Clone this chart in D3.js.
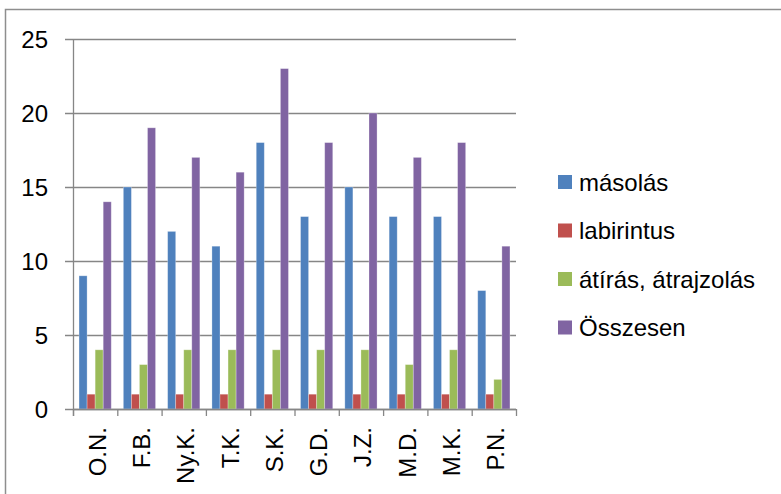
<!DOCTYPE html>
<html>
<head>
<meta charset="utf-8">
<script src="https://cdn.jsdelivr.net/npm/d3@7"></script>
<style>
  html, body { margin: 0; padding: 0; background: #fff; }
  svg { display: block; font-family: "Liberation Sans", Arial, sans-serif; }
</style>
</head>
<body>
<svg id="chart" width="781" height="494"></svg>
<script>
const categories = ["O.N.", "F.B.", "Ny.K.", "T.K.", "S.K.", "G.D.", "J.Z.", "M.D.", "M.K.", "P.N."];
const seriesNames = ["másolás", "labirintus", "átírás, átrajzolás", "Összesen"];
const masolas    = [9, 15, 12, 11, 18, 13, 15, 13, 13, 8];
const labirintus = [1, 1, 1, 1, 1, 1, 1, 1, 1, 1];
const atiras     = [4, 3, 4, 4, 4, 4, 4, 3, 4, 2];
const osszesen   = [14, 19, 17, 16, 23, 18, 20, 17, 18, 11];
const yTicks = [0, 5, 10, 15, 20, 25];
const colors = ["#4F81BD", "#C0504D", "#9BBB59", "#8064A2"];

const seriesValues = [masolas, labirintus, atiras, osszesen];

const svg = d3.select("#chart");
const plotLeft = 73, plotRight = 516, plotTop = 39, plotBottom = 409;
const fontSize = 24;

// outer frame (right/bottom edges fall outside the picture)
svg.append("rect")
  .attr("x", 5.5).attr("y", 9.5).attr("width", 800).attr("height", 520)
  .attr("fill", "none").attr("stroke", "#8e8e8e").attr("stroke-width", 1.5);

const x0 = d3.scaleBand().domain(categories).range([plotLeft, plotRight]).paddingInner(0).paddingOuter(0);
const x1 = d3.scaleBand().domain(seriesNames).range([0, x0.bandwidth()]).paddingInner(0).paddingOuter(0.75);
const y = d3.scaleLinear().domain([0, 25]).range([plotBottom, plotTop]);
const color = d3.scaleOrdinal().domain(seriesNames).range(colors);

// gridlines
svg.append("g").selectAll("line").data(yTicks).join("line")
  .attr("x1", plotLeft - 8).attr("x2", plotRight)
  .attr("y1", d => Math.round(y(d)) + 0.5).attr("y2", d => Math.round(y(d)) + 0.5)
  .attr("stroke", "#868686").attr("stroke-width", 1.3);

// y axis
const yAxis = svg.append("g").attr("transform", `translate(${plotLeft},0)`)
  .call(d3.axisLeft(y).tickValues(yTicks).tickSize(8).tickPadding(17));
yAxis.select(".domain").attr("stroke", "#868686").attr("stroke-width", 1.3)
  .attr("d", `M0.5,${plotTop}V${plotBottom + 7}`);
yAxis.selectAll(".tick line").remove();
yAxis.selectAll(".tick text").attr("font-size", fontSize).attr("fill", "#000")
  .attr("font-family", "Liberation Sans, Arial, sans-serif")
  .attr("dy", null).attr("dominant-baseline", "central");

// bars
const data = [];
categories.forEach((c, i) => {
  seriesNames.forEach((s, j) => data.push({ cat: c, series: s, value: seriesValues[j][i] }));
});
svg.append("g").selectAll("rect").data(data).join("rect")
  .attr("x", d => x0(d.cat) + x1(d.series))
  .attr("width", x1.bandwidth())
  .attr("y", d => y(d.value))
  .attr("height", d => y(0) - y(d.value))
  .attr("fill", d => color(d.series))
  .attr("stroke", "rgba(255,255,255,0.35)")
  .attr("stroke-width", 0.8);

// x axis line + boundary ticks
svg.append("line").attr("x1", plotLeft).attr("x2", plotRight)
  .attr("y1", plotBottom + 0.5).attr("y2", plotBottom + 0.5)
  .attr("stroke", "#868686").attr("stroke-width", 1.3);
svg.append("g").selectAll("line").data(d3.range(categories.length + 1)).join("line")
  .attr("x1", i => plotLeft + i * x0.step() + 0.5).attr("x2", i => plotLeft + i * x0.step() + 0.5)
  .attr("y1", plotBottom).attr("y2", plotBottom + 7)
  .attr("stroke", "#868686").attr("stroke-width", 1.3);

// x labels
const xAxis = svg.append("g").attr("transform", `translate(0,${plotBottom})`)
  .call(d3.axisBottom(x0).tickSize(0));
xAxis.select(".domain").remove();
xAxis.selectAll(".tick text")
  .attr("font-size", fontSize).attr("fill", "#000")
  .attr("font-family", "Liberation Sans, Arial, sans-serif")
  .attr("x", 0).attr("y", 0).attr("dy", null)
  .attr("text-anchor", "end").attr("dominant-baseline", "central")
  .attr("transform", "translate(2,18) rotate(-90)");

// legend
const legend = svg.append("g").selectAll("g").data(seriesNames).join("g")
  .attr("transform", (d, i) => `translate(558,${182 + i * 48.5})`);
legend.append("rect").attr("x", 0).attr("y", -7).attr("width", 14).attr("height", 14)
  .attr("fill", d => color(d));
legend.append("text").attr("x", 21).attr("y", 0)
  .attr("dominant-baseline", "central")
  .attr("font-size", fontSize).attr("fill", "#000")
  .text(d => d);
</script>
</body>
</html>
